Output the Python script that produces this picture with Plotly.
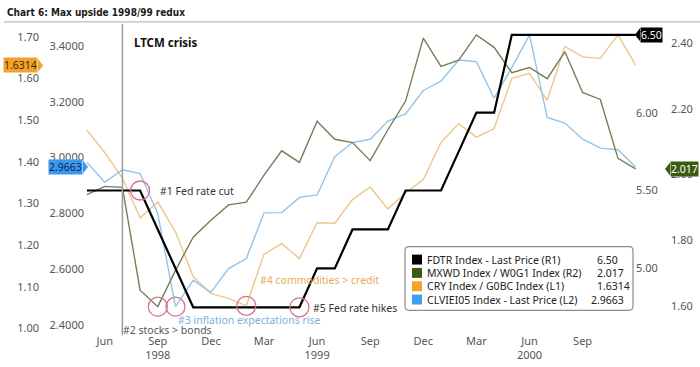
import plotly.graph_objects as go

# ---------------- data ----------------
months = ["1998-05", "1998-06", "1998-07", "1998-08", "1998-09", "1998-10", "1998-11", "1998-12",
          "1999-01", "1999-02", "1999-03", "1999-04", "1999-05", "1999-06", "1999-07", "1999-08",
          "1999-09", "1999-10", "1999-11", "1999-12", "2000-01", "2000-02", "2000-03", "2000-04",
          "2000-05", "2000-06", "2000-07", "2000-08", "2000-09", "2000-10", "2000-11", "2000-12"]

tick_months = ["1998-06", "1998-09", "1998-12", "1999-03", "1999-06", "1999-09", "1999-12",
               "2000-03", "2000-06", "2000-09"]
tick_text = ["Jun", "Sep<br>1998", "Dec", "Mar", "Jun<br>1999", "Sep", "Dec", "Mar", "Jun<br>2000", "Sep"]

# FDTR Index - Last Price (R1)
fdtr = [5.50, 5.50, 5.50, 5.50, 5.25, 5.00, 4.75, 4.75, 4.75, 4.75, 4.75, 4.75, 4.75, 5.00, 5.00, 5.25,
        5.25, 5.25, 5.50, 5.50, 5.50, 5.75, 6.00, 6.00, 6.50, 6.50, 6.50, 6.50, 6.50, 6.50, 6.50, 6.50]
# MXWD Index / W0G1 Index (R2)
mxwd = [1.939, 1.964, 1.961, 1.649, 1.599, 1.709, 1.810, 1.861, 1.908, 1.916, 1.998, 2.072, 2.037, 2.162,
        2.107, 2.097, 2.042, 2.136, 2.223, 2.414, 2.328, 2.347, 2.424, 2.386, 2.309, 2.325, 2.291, 2.373,
        2.249, 2.228, 2.049, 2.017]
# CRY Index / G0BC Index (L1)
cry = [1.4757, 1.4224, 1.3611, 1.2656, 1.3038, 1.2315, 1.1248, 1.0835, 1.0723, 1.0544, 1.1785, 1.2036,
       1.1678, 1.2537, 1.2525, 1.3093, 1.3396, 1.2871, 1.3253, 1.3575, 1.4463, 1.4916, 1.4594, 1.4797,
       1.6002, 1.6124, 1.5477, 1.6768, 1.6518, 1.6482, 1.7048, 1.6314]
# CLVIEI05 Index - Last Price (L2)
clv = [2.9826, 2.9114, 2.9562, 2.9427, 2.7986, 2.4665, 2.5612, 2.5174, 2.6028, 2.6384, 2.8021, 2.8030,
       2.8573, 2.8662, 3.0032, 3.0537, 3.0655, 3.1306, 3.1562, 3.2399, 3.2730, 3.3491, 3.3431, 3.2121,
       3.3217, 3.4391, 3.1438, 3.1235, 3.0655, 3.0335, 3.0281, 2.9663]

series_names = ["FDTR Index - Last Price (R1)", "MXWD Index / W0G1 Index (R2)",
                "CRY Index / G0BC Index (L1)", "CLVIEI05 Index - Last Price (L2)"]
last_labels = ["6.50", "2.017", "1.6314", "2.9663"]

l1_ticks = [1.00, 1.10, 1.20, 1.30, 1.40, 1.50, 1.60, 1.70]
l2_ticks = [2.4, 2.6, 2.8, 3.0, 3.2, 3.4]
r1_ticks = [5.00, 5.50, 6.00, 6.50]
r2_ticks = [1.60, 1.80, 2.00, 2.20, 2.40]

ltcm_month = "1998-07"
events = [  # (text, series, month index)
    ("#1 Fed rate cut", "fdtr", 3),
    ("#2 stocks > bonds", "mxwd", 4),
    ("#3 inflation expectations rise", "clv", 5),
    ("#4 commodities > credit", "cry", 9),
    ("#5 Fed rate hikes", "fdtr", 12),
]

# ---------------- layout geometry ----------------
W, H = 700, 367
PT, PB = 25, 335          # plot top / bottom (px)
PL, PR = 80, 642          # plot left / right (px)


def px2x(p):
    return p / W


def px2y(p):
    return 1 - p / H


def axis_range(v1, p1, v2, p2):
    k = (v1 - v2) / (p2 - p1)
    return [v1 - (PB - p1) * k, v1 + (p1 - PT) * k]


rng = {
    "y": axis_range(1.70, 37, 1.00, 330.3),    # L1
    "y2": axis_range(3.40, 46, 2.40, 327),     # L2
    "y3": axis_range(2.40, 43, 1.60, 308),     # R2
    "y4": axis_range(6.50, 35, 4.75, 309),     # R1
}


def upp(ax):  # axis units per pixel
    r = rng[ax]
    return (r[1] - r[0]) / (PB - PT)


FONT = "Noto Sans, Tahoma, sans-serif"
C_BLACK, C_GREEN, C_ORANGE, C_BLUE = "#000000", "#3b5c10", "#f4a428", "#3d9ff0"

fig = go.Figure()
fig.add_trace(go.Scatter(x=months, y=cry, yaxis="y", mode="lines",
                         line=dict(color="#eec68c", width=1.4), hoverinfo="skip"))
fig.add_trace(go.Scatter(x=months, y=clv, yaxis="y2", mode="lines",
                         line=dict(color="#92c4ea", width=1.4), hoverinfo="skip"))
fig.add_trace(go.Scatter(x=months, y=mxwd, yaxis="y3", mode="lines",
                         line=dict(color="#777c5a", width=1.4), hoverinfo="skip"))
fig.add_trace(go.Scatter(x=months, y=fdtr, yaxis="y4", mode="lines",
                         line=dict(color=C_BLACK, width=2.2), hoverinfo="skip"))

ycommon = dict(showgrid=False, zeroline=False, showline=False, ticks="",
               tickfont=dict(family=FONT, size=11, color="#555555"),
               domain=[px2y(PB), px2y(PT)], anchor="free", fixedrange=True)

fig.update_layout(
    width=W, height=H, margin=dict(l=0, r=0, t=0, b=0),
    paper_bgcolor="white", plot_bgcolor="white", showlegend=False,
    xaxis=dict(type="category", range=[(PL - 87) / 17.7, (PR - 87) / 17.7],
               domain=[px2x(PL), px2x(PR)], tickmode="array", tickvals=tick_months,
               ticktext=tick_text, ticks="", showgrid=False, zeroline=False, showline=False,
               tickfont=dict(family=FONT, size=11, color="#555555"), anchor="y", fixedrange=True),
    yaxis=dict(ycommon, range=rng["y"], tickvals=l1_ticks, tickformat=".2f",
               side="left", position=px2x(39)),
    yaxis2=dict(ycommon, range=rng["y2"], tickvals=l2_ticks, tickformat=".4f",
                side="left", position=px2x(84), overlaying="y"),
    yaxis3=dict(ycommon, range=rng["y3"], tickvals=r2_ticks, tickformat=".2f",
                side="right", position=px2x(670), overlaying="y"),
    yaxis4=dict(ycommon, range=rng["y4"], tickvals=r1_ticks, tickformat=".2f",
                side="right", position=px2x(635), overlaying="y"),
)

shapes = []
annotations = []

# title + separator
annotations.append(dict(text="<b>Chart 6: Max upside 1998/99 redux</b>", xref="paper", yref="paper",
                        x=px2x(5), y=px2y(13), xanchor="left", yanchor="middle", showarrow=False,
                        font=dict(family="Liberation Sans Narrow, DejaVu Sans Condensed, Roboto Condensed, Liberation Sans",
                                  size=10, color="#1a1a1a")))
shapes.append(dict(type="line", xref="paper", yref="paper", x0=px2x(4), x1=1, y0=px2y(22), y1=px2y(22),
                   line=dict(color="#a8aeb4", width=1)))

# LTCM crisis marker
shapes.append(dict(type="line", xref="x", yref="paper", x0=months.index(ltcm_month),
                   x1=months.index(ltcm_month), y0=px2y(337), y1=px2y(24),
                   line=dict(color="#a0a0a0", width=1.6)))
annotations.append(dict(text="<b>LTCM crisis</b>", xref="paper", yref="paper", x=px2x(132), y=px2y(43),
                        xanchor="left", yanchor="middle", showarrow=False,
                        font=dict(family=FONT, size=11.5, color="#111111")))

# event circles
series_axis = {"fdtr": ("y4", fdtr), "mxwd": ("y3", mxwd), "cry": ("y", cry), "clv": ("y2", clv)}
for text, s, i in events:
    ax, vals = series_axis[s]
    shapes.append(dict(type="circle", xref="x", yref=ax, xsizemode="pixel", ysizemode="pixel",
                       xanchor=i, yanchor=vals[i], x0=-9.5, x1=9.5, y0=-9.5, y1=9.5,
                       line=dict(color="#d8728c", width=1.3)))

ev_style = [  # (left px, center y px, color)
    (158, 192, "#333333"),
    (121, 332, "#555555"),
    (176, 322, "#80afd8"),
    (258, 282, "#e9ab55"),
    (311, 310, "#333333"),
]
for (text, s, i), (lx, cy, col) in zip(events, ev_style):
    annotations.append(dict(text=text, xref="paper", yref="paper", x=px2x(lx), y=px2y(cy),
                            xanchor="left", yanchor="middle", showarrow=False,
                            font=dict(family=FONT, size=10.5, color=col)))

# legend box (rounded)
bx0, by0, bx1, by1, r = 405, 248, 633, 312, 4


def P(x, y):
    return f"{px2x(x):.5f},{px2y(y):.5f}"


path = (f"M {P(bx0 + r, by0)} L {P(bx1 - r, by0)} Q {P(bx1, by0)} {P(bx1, by0 + r)} "
        f"L {P(bx1, by1 - r)} Q {P(bx1, by1)} {P(bx1 - r, by1)} L {P(bx0 + r, by1)} "
        f"Q {P(bx0, by1)} {P(bx0, by1 - r)} L {P(bx0, by0 + r)} Q {P(bx0, by0)} {P(bx0 + r, by0)} Z")
shapes.append(dict(type="path", xref="paper", yref="paper", path=path, fillcolor="white",
                   line=dict(color="#8c8c8c", width=1.2), layer="above"))
leg_colors = [C_BLACK, C_GREEN, C_ORANGE, C_BLUE]
val_left = [595, 595, 595, 589]
for k, (name, val, col) in enumerate(zip(series_names, last_labels, leg_colors)):
    cy = 261 + k * 13.4
    shapes.append(dict(type="rect", xref="paper", yref="paper", x0=px2x(412), x1=px2x(422),
                       y0=px2y(cy + 5), y1=px2y(cy - 5), fillcolor=col, line=dict(width=0),
                       layer="above"))
    annotations.append(dict(text=name, xref="paper", yref="paper", x=px2x(425), y=px2y(cy),
                            xanchor="left", yanchor="middle", showarrow=False,
                            font=dict(family=FONT, size=10.5, color="#222222")))
    annotations.append(dict(text=val, xref="paper", yref="paper", x=px2x(val_left[k]), y=px2y(cy),
                            xanchor="left", yanchor="middle", showarrow=False,
                            font=dict(family=FONT, size=10.5, color="#222222")))

# last-value tags
tags = [  # (axis, value, label, fill, text color, side, box edge px)
    ("y", cry[-1], last_labels[2], "#f0a22a", "#4a2c00", "left", 38),
    ("y2", clv[-1], last_labels[3], "#3c98ee", "#0a2450", "left", 83),
    ("y4", fdtr[-1], last_labels[0], "#000000", "#ffffff", "right", 640),
    ("y3", mxwd[-1], last_labels[1], "#3b5c10", "#ffffff", "right", 670),
]
for ax, v, lab, fill, tcol, side, edge in tags:
    hh = 6.5 * upp(ax)
    if side == "left":
        tip = edge + 5
        annotations.append(dict(text=lab, xref="paper", yref=ax, x=px2x(edge), y=v, xanchor="right",
                                yanchor="middle", showarrow=False, bgcolor=fill, borderpad=0,
                                font=dict(family=FONT, size=10.5, color=tcol)))
    else:
        tip = edge - 5
        annotations.append(dict(text=lab, xref="paper", yref=ax, x=px2x(edge), y=v, xanchor="left",
                                yanchor="middle", showarrow=False, bgcolor=fill, borderpad=0,
                                font=dict(family=FONT, size=10.5, color=tcol)))
    shapes.append(dict(type="path", xref="paper", yref=ax,
                       path=f"M {px2x(edge):.5f},{v + hh} L {px2x(tip):.5f},{v} L {px2x(edge):.5f},{v - hh} Z",
                       fillcolor=fill, line=dict(width=0), layer="above"))

fig.update_layout(shapes=shapes, annotations=annotations)
fig.write_html("out.html", config={"displayModeBar": False},
               post_script="document.body.style.margin='0';document.body.style.overflow='hidden';")
